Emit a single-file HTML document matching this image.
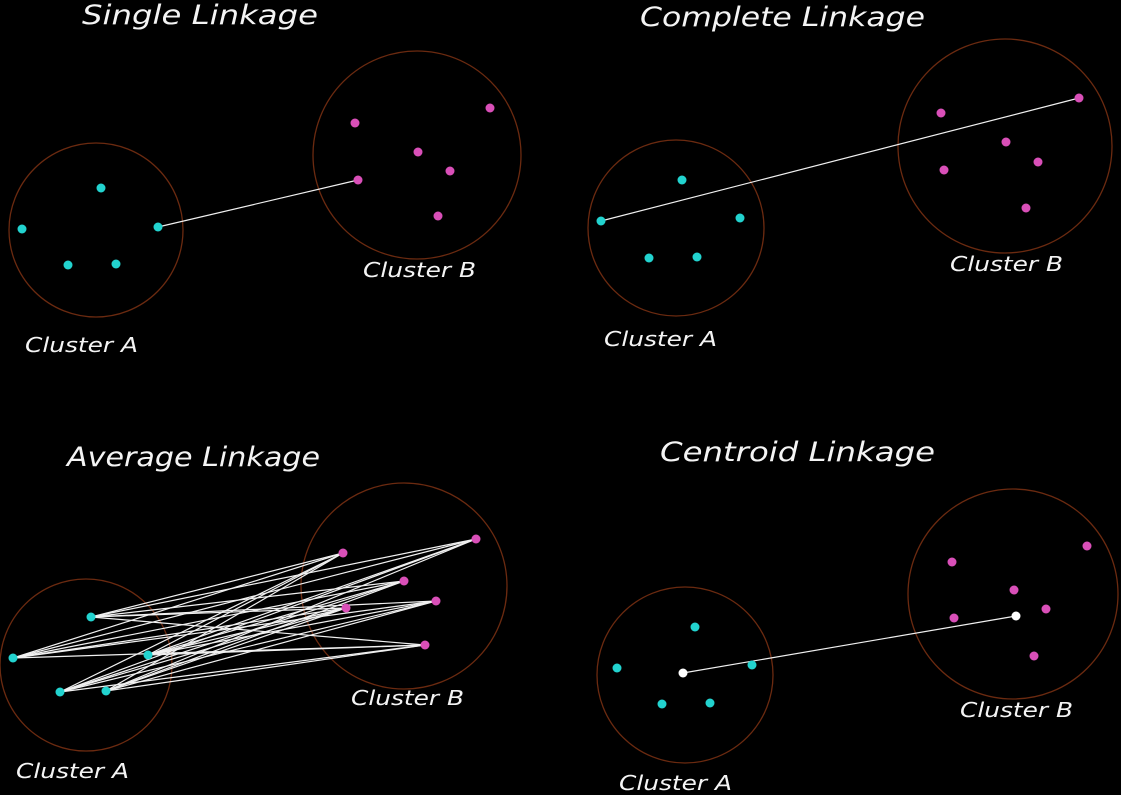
<!DOCTYPE html>
<html><head><meta charset="utf-8"><style>
html,body{margin:0;padding:0;background:#000;width:1121px;height:795px;overflow:hidden}
svg{display:block}
text{fill:#f4f4f4;font-family:"DejaVu Sans","Liberation Sans",sans-serif;font-style:italic}
</style></head><body>
<svg id="c" width="1121" height="795"></svg>
<script>
const panelNames=['single','complete','average','centroid'];
const titles=['Single Linkage','Complete Linkage','Average Linkage','Centroid Linkage'];
const titlePos=[[82,24,236],[640,26,285],[67,466,253],[660,461,275]];
const circA=[[96,230,87],[676,228,88],[86,665,86],[685,675,88]];
const circB=[[417,155,104],[1005,146,107],[404,586,103],[1013,594,105]];
const ptsA=[
 [[101,188],[22,229],[68,265],[116,264],[158,227]],
 [[682,180],[601,221],[649,258],[697,257],[740,218]],
 [[91,617],[13,658],[60,692],[106,691],[148,655]],
 [[695,627],[617,668],[662,704],[710,703],[752,665]]];
const ptsB=[
 [[355,123],[490,108],[418,152],[450,171],[358,180],[438,216]],
 [[941,113],[1079,98],[1006,142],[1038,162],[944,170],[1026,208]],
 [[343,553],[476,539],[404,581],[436,601],[346,608],[425,645]],
 [[952,562],[1087,546],[1014,590],[1046,609],[954,618],[1034,656]]];
const labA=[[25,352],[604,346],[16,778],[619,790]];
const labB=[[363,277],[950,271],[351,705],[960,717]];
const centroids=[[683,673],[1016,616]];
const S='http://www.w3.org/2000/svg';
const svg=document.getElementById('c');
function mk(t,a,p){const e=document.createElementNS(S,t);for(const k in a)e.setAttribute(k,a[k]);(p||svg).appendChild(e);return e;}
for(let i=0;i<4;i++){
 const g=mk('g',{});
 
 
 const t=mk('text',{x:titlePos[i][0],y:titlePos[i][1],'font-size':27,textLength:titlePos[i][2],lengthAdjust:'spacingAndGlyphs'},g);
 t.textContent=titles[i];
 
 
 [circA[i],circB[i]].forEach((c,j)=>{
  const e=mk('circle',{cx:c[0],cy:c[1],r:c[2],fill:'none',stroke:'#6b2a10','stroke-width':1.3},g);
  
  
 });
 const A=ptsA[i],B=ptsB[i];
 let links=[];
 if(i===0)links=[[A[4],B[4]]];
 if(i===1)links=[[A[1],B[1]]];
 if(i===2)A.forEach(a=>B.forEach(b=>links.push([a,b])));
 if(i===3)links=[[centroids[0],centroids[1]]];
 links.forEach(l=>{
  const e=mk('line',{x1:l[0][0],y1:l[0][1],x2:l[1][0],y2:l[1][1],stroke:'#f0f0f0','stroke-width':1.2},g);
  
  
 });
 A.forEach(p=>{const e=mk('circle',{cx:p[0],cy:p[1],r:4.5,fill:'#22d3cf'},g);
  
  });
 B.forEach(p=>{const e=mk('circle',{cx:p[0],cy:p[1],r:4.5,fill:'#d94fb8'},g);
  
  });
 if(i===3)centroids.forEach(p=>{const e=mk('circle',{cx:p[0],cy:p[1],r:4.5,fill:'#ffffff'},g);
  
  });
 const la=mk('text',{x:labA[i][0],y:labA[i][1],'font-size':20,textLength:113,lengthAdjust:'spacingAndGlyphs'},g);
 la.textContent='Cluster A';
 
 
 const lb=mk('text',{x:labB[i][0],y:labB[i][1],'font-size':20,textLength:113,lengthAdjust:'spacingAndGlyphs'},g);
 lb.textContent='Cluster B';
 
 
}
</script>
</body></html>
